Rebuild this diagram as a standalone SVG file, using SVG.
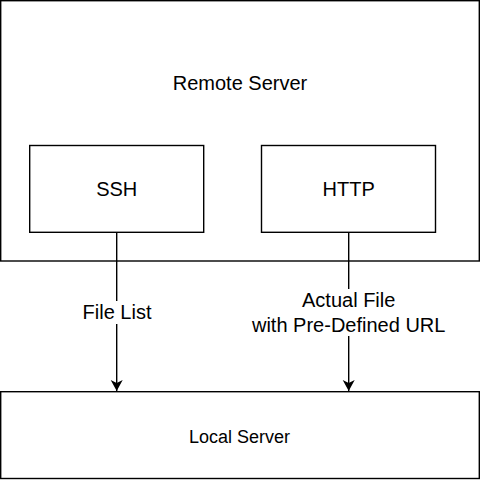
<svg xmlns="http://www.w3.org/2000/svg" width="480" height="480" viewBox="0 0 480 480">
<style>
.box{fill:#fff;stroke:#000;stroke-width:1.4}
.t{font-family:"Liberation Sans",Arial,sans-serif;font-size:20px;fill:#000;text-anchor:middle}
.edge{stroke:#000;stroke-width:1.4;fill:none}
.lbl{fill:#fff}
</style>
<defs>
<marker id="arr" markerWidth="12" markerHeight="14" refX="11" refY="7" orient="auto" markerUnits="userSpaceOnUse" viewBox="0 0 12 14">
<path d="M0,1 L11,7 L0,13 L3,7 Z" fill="#000"/>
</marker>
</defs>
<rect width="480" height="480" fill="#fff"/>
<g id="remote-server">
<rect class="box" x="0.7" y="0.7" width="478.6" height="260.3"/>
<text class="t" x="240" y="90">Remote Server</text>
</g>
<g id="ssh">
<rect class="box" x="29.7" y="145.5" width="174" height="86.8"/>
<text class="t" x="116.7" y="196">SSH</text>
</g>
<g id="http">
<rect class="box" x="261.5" y="145.5" width="174" height="86.8"/>
<text class="t" x="348.7" y="196">HTTP</text>
</g>
<g id="local-server">
<rect class="box" x="0.7" y="391.7" width="478.6" height="86.8"/>
<text class="t" x="239.5" y="442.5" style="font-size:18px">Local Server</text>
</g>
<g id="connectors">
<line class="edge" x1="116.7" y1="232.3" x2="116.7" y2="391" marker-end="url(#arr)"/>
<line class="edge" x1="348.7" y1="232.3" x2="348.7" y2="391" marker-end="url(#arr)"/>
<rect class="lbl" x="80" y="301" width="74" height="23"/>
<text class="t" x="117" y="319">File List</text>
<rect class="lbl" x="250" y="289" width="198" height="47"/>
<text class="t" x="348.7" y="307">Actual File</text>
<text class="t" x="348.7" y="331.5">with Pre-Defined URL</text>
</g>
</svg>
